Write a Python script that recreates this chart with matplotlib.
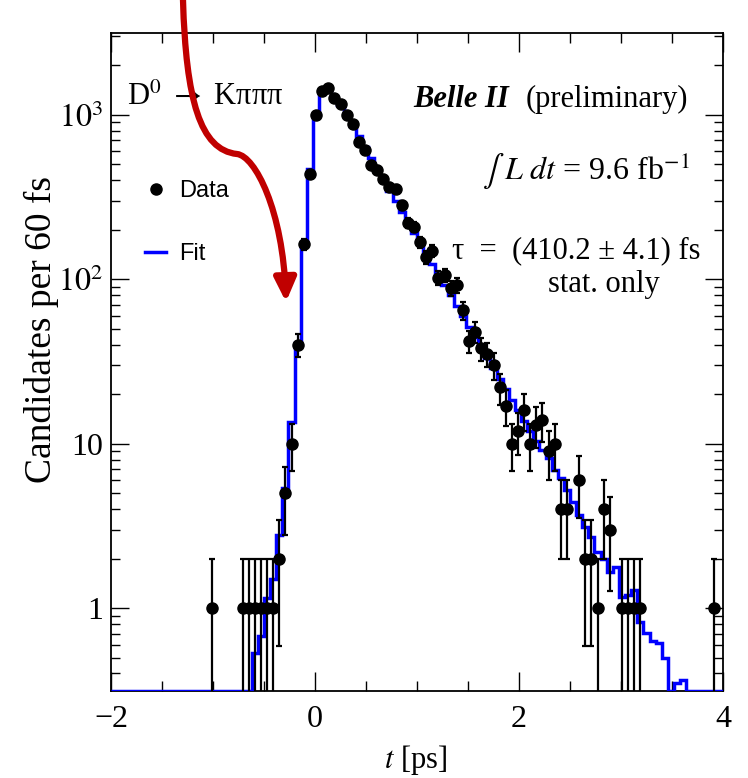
import numpy as np
import matplotlib.pyplot as plt
from matplotlib.path import Path
from matplotlib.patches import FancyArrowPatch
from matplotlib.lines import Line2D
from matplotlib.ticker import FixedLocator, NullFormatter

plt.rcParams['font.family'] = ['Liberation Serif', 'DejaVu Serif']
plt.rcParams['mathtext.fontset'] = 'stix'

# decay-time histogram: 100 bins of 60 fs between -2 and 4 ps
t_lo, t_hi, n_bins = -2.0, 4.0, 100

# candidates per bin
data_counts = [
    0, 0, 0, 0, 0, 0, 0, 0, 0, 0,
    0, 0, 0, 0, 0, 0, 1, 0, 0, 0,
    0, 1, 1, 1, 1, 1, 1, 2, 5, 10,
    40, 163, 439, 1002, 1389, 1456, 1265, 1170, 993, 884,
    684, 608, 498, 465, 410, 365, 356, 282, 220, 208,
    169, 136, 149, 102, 106, 88, 92, 65, 42, 48,
    38, 35, 30, 22, 17, 10, 12, 16, 10, 13,
    14, 9, 10, 4, 4, 0, 6, 2, 2, 1,
    4, 3, 0, 1, 1, 1, 1, 0, 0, 0,
    0, 0, 0, 0, 0, 0, 0, 0, 1, 0,
]

# fitted expectation per bin
fit_values = [
    0, 0, 0, 0, 0, 0, 0, 0, 0, 0,
    0, 0, 0, 0, 0, 0, 0, 0, 0, 0,
    0, 0, 0, 0.53, 0.68, 1.15, 1.5, 2.8, 5.4, 13.5,
    41, 161, 470, 990, 1370, 1430, 1300, 1150, 1000, 860,
    740, 635, 545, 468, 402, 346, 298, 257, 222, 192,
    166, 143, 124, 107, 92, 80, 69, 60, 51.5, 44.5,
    38.5, 33.3, 28.8, 24.8, 21.5, 18.5, 16.0, 13.8, 12.0, 10.4,
    9.1, 8.2, 6.9, 6.2, 5.2, 4.4, 3.7, 3.1, 2.7, 2.2,
    2.0, 1.66, 1.77, 1.17, 1.2, 1.29, 0.82, 0.71, 0.63, 0.61,
    0.50, 0, 0.35, 0.365, 0, 0, 0, 0, 0, 0,
]

y_min, y_max = 0.313, 3150

edges = np.linspace(t_lo, t_hi, n_bins + 1)
centers = 0.5 * (edges[:-1] + edges[1:])
counts = np.array(data_counts, dtype=float)
fit = np.array(fit_values, dtype=float)

W, H = 748, 778
fig = plt.figure(figsize=(W / 100, H / 100), dpi=100)
ax = fig.add_axes([111 / W, 1 - 691 / H, 612 / W, 658 / H])
ax.set_yscale('log')
ax.set_xlim(t_lo, t_hi)
ax.set_ylim(y_min, y_max)

# fit histogram, empty bins sit on the lower edge of the frame
ax.stairs(np.clip(fit, y_min, None), edges, baseline=None,
          color='#0000ff', lw=2.5, zorder=2.6)

sel = counts > 0
ax.errorbar(centers[sel], counts[sel], yerr=np.sqrt(counts[sel]),
            fmt='o', color='black', ms=8, elinewidth=1.6,
            capsize=2.5, capthick=1.6, zorder=3)

# axes decoration
ax.set_xticks([-2, 0, 2, 4])
ax.set_xticklabels(['\u22122', '0', '2', '4'])
ax.xaxis.set_minor_locator(FixedLocator(np.arange(-2, 4.01, 0.5)))
ax.set_yticks([1, 10, 100, 1000])
ax.set_yticklabels(['1', '10', r'$10^2$', r'$10^3$'])
minor_y = [m * 10.0 ** e for e in range(-1, 4) for m in range(2, 10)]
ax.yaxis.set_minor_locator(FixedLocator(minor_y))
ax.yaxis.set_minor_formatter(NullFormatter())
ax.tick_params(which='both', direction='in', top=True, right=True,
               width=1.0, labelsize=23)
ax.tick_params(axis='x', which='major', length=14, pad=10)
ax.tick_params(axis='x', which='minor', length=7)
ax.tick_params(axis='y', which='major', length=13, pad=6)
ax.tick_params(axis='y', which='minor', length=6.5)
for s in ax.spines.values():
    s.set_linewidth(1.3)

ax.set_ylabel('Candidates per 60 fs', fontsize=27)
ax.yaxis.set_label_coords(-0.085, 0.55)
ax.set_xlabel(r'$t$ [ps]', fontsize=22)
ax.xaxis.set_label_coords(0.498, -0.079)

# annotations
def fx(x):
    return x / W

def fy(y):
    return 1 - y / H

fig.text(fx(127), fy(105), 'D$^0$ $\\rightarrow$ K\u03c0\u03c0\u03c0',
         fontsize=22, ha='left', va='baseline')
fig.text(fx(413), fy(107), 'Belle II', fontsize=22, fontweight='bold',
         style='italic', ha='left', va='baseline')
fig.text(fx(688), fy(107), '(preliminary)', fontsize=22,
         ha='right', va='baseline')
fig.text(fx(690), fy(180), r'$\int\ L\ dt$ = 9.6 fb$^{-1}$', fontsize=23,
         ha='right', va='baseline')
fig.text(fx(700), fy(258), '\u03c4  =  (410.2 \u00b1 4.1) fs', fontsize=22,
         ha='right', va='baseline')
fig.text(fx(660), fy(292), 'stat. only', fontsize=22,
         ha='right', va='baseline')

handles = [
    Line2D([], [], marker='o', ls='none', color='black', ms=8),
    Line2D([], [], color='#0000ff', lw=2.5),
]
fig.legend(handles, ['Data', 'Fit'], loc='upper left',
           bbox_to_anchor=(fx(145), fy(180)), frameon=False,
           prop={'family': 'Liberation Sans', 'size': 17},
           handlelength=0.9, handletextpad=0.55, labelspacing=1.75,
           borderpad=0, borderaxespad=0)

# red arrow pointing at the rising edge
pts = [(183, 0), (186, 100), (200, 150), (237, 154),
       (255, 156), (283, 210), (286, 302)]
codes = [Path.MOVETO] + [Path.CURVE4] * 6
arrow_path = Path([(fx(x), fy(y)) for x, y in pts], codes)
arrow = FancyArrowPatch(path=arrow_path, transform=fig.transFigure,
                        arrowstyle='-|>,head_length=1.4,head_width=0.65',
                        mutation_scale=10, color='#c00000', lw=4.5,
                        shrinkA=0, shrinkB=0, clip_on=False, zorder=10)
fig.patches.append(arrow)

fig.savefig('out.png', dpi=100)
